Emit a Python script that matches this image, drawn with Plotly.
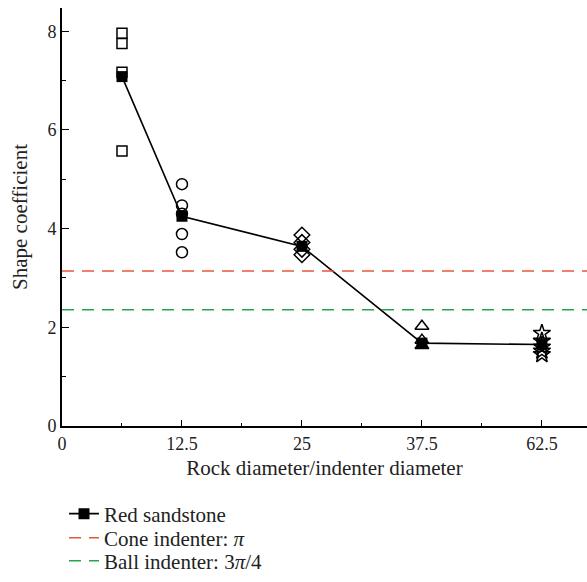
import numpy as np
import plotly.graph_objects as go

# ---- data ----
tick_values = [0, 12.5, 25, 37.5, 62.5]
tick_labels = ["0", "12.5", "25", "37.5", "62.5"]
axis_positions = [0, 12.5, 25, 37.5, 50]  # broken axis: 62.5 plotted at 50

sq_x = 6.25
sq_y = [7.96, 7.75, 7.17, 5.57]
ci_x = 12.5
ci_y = [4.90, 4.47, 4.30, 3.89, 3.52]
di_x = 25
di_y = [3.87, 3.72, 3.58, 3.47]
tr_x = 37.5
tr_y = [2.02, 1.74, 1.63]
st_x = 62.5
st_y = [1.88, 1.72, 1.60, 1.52, 1.45]

mean_x = [6.25, 12.5, 25, 37.5, 62.5]
mean_y = [7.08, 4.25, 3.64, 1.68, 1.65]

cone_value = np.pi
ball_value = 3 * np.pi / 4


def pos(v):
    return np.interp(v, tick_values, axis_positions)


FONT = "Liberation Serif"
x_max = 54.7
PLOT_TOP, PLOT_BOTTOM, PLOT_LEFT, PLOT_W = 8, 426, 62, 525


def legend_box(center_px):
    return dict(
        x=2 / PLOT_W, y=(PLOT_BOTTOM - center_px) / (PLOT_BOTTOM - PLOT_TOP),
        xanchor="left", yanchor="middle", font=dict(size=21, family=FONT, color="#222"),
        itemwidth=30, bgcolor="rgba(0,0,0,0)", borderwidth=0,
    )


fig = go.Figure()

groups = [
    (sq_x, sq_y, "square-open", 10),
    (ci_x, ci_y, "circle-open", 11),
    (di_x, di_y, "diamond-open", 12),
    (tr_x, tr_y, "triangle-up-open", 12),
    (st_x, st_y, "star-open", 13),
]
for gx, gy, sym, sz in groups:
    fig.add_trace(go.Scatter(
        x=pos([gx] * len(gy)), y=gy, mode="markers", showlegend=False,
        marker=dict(symbol=sym, size=sz, color="black", line=dict(width=1.5)),
        hoverinfo="skip"))

fig.add_trace(go.Scatter(
    x=pos(mean_x), y=mean_y, mode="lines+markers", name="Red sandstone",
    line=dict(color="black", width=1.6), legend="legend",
    marker=dict(symbol="square", size=11, color="black")))

fig.add_trace(go.Scatter(
    x=[0, x_max], y=[cone_value, cone_value], mode="lines",
    name="Cone indenter: <i>π</i>", legend="legend2",
    line=dict(color="#e8553a", width=1.5, dash="12px,8px")))

fig.add_trace(go.Scatter(
    x=[0, x_max], y=[ball_value, ball_value], mode="lines",
    name="Ball indenter: 3<i>π</i>/4", legend="legend3",
    line=dict(color="#22a450", width=1.5, dash="12px,8px")))

fig.update_layout(
    width=587, height=582,
    margin=dict(l=PLOT_LEFT, r=0, t=PLOT_TOP, b=582 - PLOT_BOTTOM),
    paper_bgcolor="white", plot_bgcolor="white",
    font=dict(family=FONT, size=18, color="#222"),
    showlegend=True,
    xaxis=dict(
        range=[0, x_max], tickvals=axis_positions, ticktext=tick_labels,
        showgrid=False, zeroline=False, showline=True, linecolor="black",
        linewidth=2, ticks="inside", ticklen=6, tickwidth=1.2, tickcolor="black",
        minor=dict(tickvals=[6.25, 18.75, 31.25, 43.75], ticks="inside",
                   ticklen=3, tickwidth=1.2, tickcolor="black"),
        title=dict(text="Rock diameter/indenter diameter", font=dict(size=21),
                   standoff=8),
        tickfont=dict(size=18),
        automargin=False,
    ),
    yaxis=dict(
        range=[0, 8.47], tickvals=[0, 2, 4, 6, 8],
        showgrid=False, zeroline=False, showline=True, linecolor="black",
        linewidth=2, ticks="inside", ticklen=7, tickwidth=1.2, tickcolor="black",
        minor=dict(tickvals=[1, 3, 5, 7], ticks="inside", ticklen=4,
                   tickwidth=1.2, tickcolor="black"),
        title=dict(text="Shape coefficient", font=dict(size=21), standoff=14),
        tickfont=dict(size=18),
        automargin=False,
    ),
    legend=legend_box(514),
    legend2=legend_box(538),
    legend3=legend_box(561),
)

fig.write_html("out.html")
